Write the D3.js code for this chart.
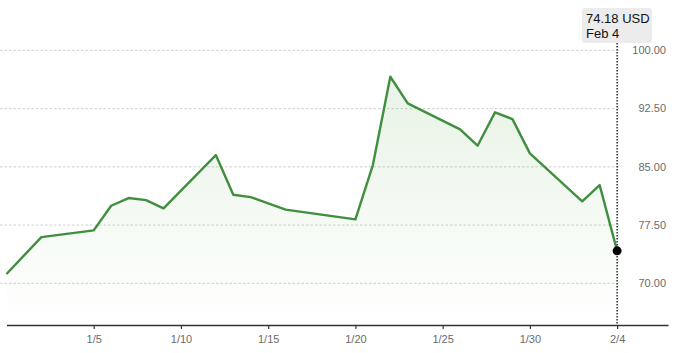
<!DOCTYPE html>
<html>
<head>
<meta charset="utf-8">
<script src="https://cdn.jsdelivr.net/npm/d3@7"></script>
<style>
  body { margin: 0; background: #fff; }
  svg { display: block; font-family: "Liberation Sans", Arial, sans-serif; }
</style>
</head>
<body>
<script>
// trading days and closing prices (USD)
const dates = ["2025-12-31", "2026-01-02", "2026-01-05", "2026-01-06", "2026-01-07", "2026-01-08",
  "2026-01-09", "2026-01-12", "2026-01-13", "2026-01-14", "2026-01-15", "2026-01-16",
  "2026-01-20", "2026-01-21", "2026-01-22", "2026-01-23", "2026-01-26", "2026-01-27",
  "2026-01-28", "2026-01-29", "2026-01-30", "2026-02-02", "2026-02-03", "2026-02-04"];
const prices = [71.2, 75.95, 76.82, 79.99, 80.98, 80.72,
  79.65, 86.52, 81.4, 81.1, 80.3, 79.49,
  78.23, 85.23, 96.61, 93.18, 89.83, 87.72,
  92.02, 91.15, 86.74, 80.55, 82.65, 74.18];

const xTickDates = ["2026-01-05", "2026-01-10", "2026-01-15", "2026-01-20", "2026-01-25", "2026-01-30", "2026-02-04"];
const yTicks = [70, 77.5, 85, 92.5, 100];

const width = 680, height = 353;
const parse = d3.timeParse("%Y-%m-%d");
const data = dates.map((d, i) => ({ date: parse(d), value: prices[i] }));
const last = data[data.length - 1];

const svg = d3.select("body").append("svg")
  .attr("width", width)
  .attr("height", height);

// x domain runs a few days past the last point
const start = parse("2025-12-31");
const end = d3.timeHour.offset(start, 910);
const x = d3.scaleTime().domain([start, end]).range([6.5, 668]);
const y = d3.scaleLinear().domain([70, 100]).range([283.3, 50.4]);
const axisY = 325;

// gradient under the line
const grad = svg.append("defs").append("linearGradient")
  .attr("id", "fade")
  .attr("x1", 0).attr("x2", 0).attr("y1", 0).attr("y2", 1);
grad.append("stop").attr("offset", "0%").attr("stop-color", "#5aa84a").attr("stop-opacity", 0.14);
grad.append("stop").attr("offset", "100%").attr("stop-color", "#5aa84a").attr("stop-opacity", 0);

// gridlines
svg.append("g")
  .selectAll("line")
  .data(yTicks)
  .enter()
  .append("line")
  .attr("x1", 0)
  .attr("x2", 620)
  .attr("y1", d => y(d))
  .attr("y2", d => y(d))
  .attr("stroke", "#cfcfcf")
  .attr("stroke-width", 1)
  .attr("stroke-dasharray", "2.5,2");

// y labels on the right
svg.append("g")
  .selectAll("text")
  .data(yTicks)
  .enter()
  .append("text")
  .attr("x", 666)
  .attr("y", d => y(d))
  .attr("dy", "0.35em")
  .attr("text-anchor", "end")
  .attr("font-size", 11)
  .attr("fill", "#6b6b6b")
  .text(d3.format(".2f"));

// area + line
const area = d3.area()
  .x(d => x(d.date))
  .y0(axisY)
  .y1(d => y(d.value));

svg.append("path")
  .datum(data)
  .attr("d", area)
  .attr("fill", "url(#fade)");

const line = d3.line()
  .x(d => x(d.date))
  .y(d => y(d.value));

svg.append("path")
  .datum(data)
  .attr("d", line)
  .attr("fill", "none")
  .attr("stroke", "#3f8f3f")
  .attr("stroke-width", 2.4)
  .attr("stroke-linejoin", "round");

// x axis
const xAxis = d3.axisBottom(x)
  .tickValues(xTickDates.map(parse))
  .tickFormat(d3.timeFormat("%-m/%-d"))
  .tickSize(4)
  .tickSizeOuter(0)
  .tickPadding(6);

const gx = svg.append("g")
  .attr("transform", `translate(0, ${axisY})`)
  .call(xAxis);
gx.select(".domain").attr("stroke", "#333").attr("stroke-width", 1.5);
gx.selectAll(".tick line").attr("stroke", "#333").attr("stroke-width", 1.2);
gx.selectAll(".tick text")
  .attr("font-size", 11)
  .attr("fill", "#6b6b6b")
  .attr("font-family", "Liberation Sans, Arial, sans-serif");

// marker for latest value
const lx = x(last.date);
svg.append("line")
  .attr("x1", lx).attr("x2", lx)
  .attr("y1", 43).attr("y2", axisY)
  .attr("stroke", "#222")
  .attr("stroke-width", 1.4)
  .attr("stroke-dasharray", "1.5,1.5");

svg.append("circle")
  .attr("cx", lx)
  .attr("cy", y(last.value))
  .attr("r", 4.5)
  .attr("fill", "#000");

const tip = svg.append("g");
tip.append("rect")
  .attr("x", 582).attr("y", 8)
  .attr("width", 70).attr("height", 35)
  .attr("rx", 3)
  .attr("fill", "#ececec");
tip.append("text")
  .attr("x", 586).attr("y", 23)
  .attr("font-size", 13)
  .attr("fill", "#111")
  .text(d3.format(".2f")(last.value) + " USD");
tip.append("text")
  .attr("x", 586).attr("y", 38)
  .attr("font-size", 13)
  .attr("fill", "#111")
  .text(d3.timeFormat("%b %-d")(last.date));
</script>
</body>
</html>
